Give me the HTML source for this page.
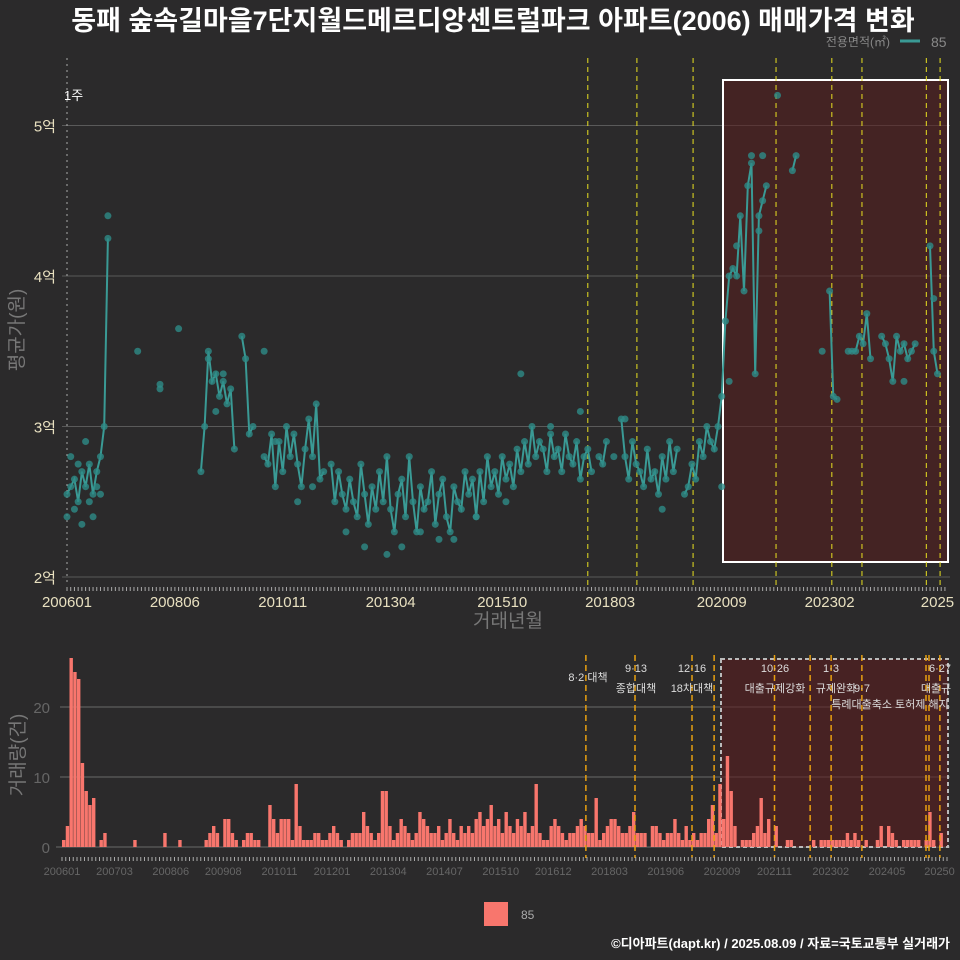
<!DOCTYPE html>
<html><head><meta charset="utf-8"><style>
body{margin:0;background:#2b2a2b;}
svg{display:block;font-family:"Liberation Sans","Noto Sans CJK KR",sans-serif;}
</style></head><body>
<svg id="c" width="960" height="960" viewBox="0 0 960 960">
<rect width="960" height="960" fill="#2b2a2b"/>
<text x="493" y="30" text-anchor="middle" font-size="27" font-weight="bold" fill="#ffffff">동패 숲속길마을7단지월드메르디앙센트럴파크 아파트(2006) 매매가격 변화</text>
<g>
<text x="890" y="46" text-anchor="end" font-size="12" fill="#888">전용면적(㎡)</text>
<line x1="900" y1="41" x2="920" y2="41" stroke="#3a9a95" stroke-width="3"/>
<text x="931" y="47" font-size="14" fill="#888">85</text>
</g>
<g id="topg"></g>
<g id="botg"></g>
<rect x="484" y="902" width="24" height="24" fill="#f8766d"/>
<text x="521" y="919" font-size="12" fill="#aaa">85</text>
<text x="950" y="948" text-anchor="end" font-size="13" font-weight="bold" fill="#fff">©디아파트(dapt.kr) / 2025.08.09 / 자료=국토교통부 실거래가</text>
</svg>
<script>
const priceAvg = [
2.55,2.6,2.65,2.5,2.7,2.6,2.75,2.55,2.7,2.8,3.0,4.25,
null,null,null,null,null,null,null,3.5,null,null,null,null,
null,3.28,null,null,null,null,3.65,null,null,null,null,null,
2.7,3.0,3.5,3.3,3.35,3.2,3.3,3.15,3.25,2.85,null,3.6,
3.45,2.95,3.0,null,null,2.8,2.75,2.95,2.6,2.9,2.7,3.0,
2.8,2.95,2.75,2.6,2.85,3.05,2.8,3.15,2.65,2.7,null,2.75,
2.5,2.7,2.55,2.45,2.65,2.5,2.4,2.75,2.55,2.35,2.6,2.45,
2.7,2.5,2.8,2.45,2.3,2.55,2.65,2.4,2.8,2.5,2.3,2.6,
2.45,2.5,2.7,2.35,2.55,2.65,2.4,2.3,2.6,2.5,2.45,2.7,
2.55,2.65,2.4,2.7,2.5,2.8,2.6,2.7,2.55,2.8,2.65,2.75,
2.6,2.85,2.7,2.9,2.75,3.0,2.8,2.9,2.85,2.7,2.95,2.8,
2.85,2.7,2.95,2.8,2.75,2.9,2.65,2.8,2.85,2.7,null,2.8,
2.75,2.9,null,2.8,null,3.05,2.8,2.65,2.9,2.75,2.7,2.6,
2.85,2.65,2.7,2.55,2.8,2.65,2.9,2.7,2.85,null,2.55,2.6,
2.75,2.65,2.9,2.8,3.0,2.9,2.85,3.0,3.2,3.7,4.0,4.05,
4.0,4.4,3.9,4.6,4.75,3.35,4.4,4.5,4.6,null,null,null,
null,null,null,4.7,4.8,null,null,null,null,null,null,null,
null,3.9,3.2,3.18,null,null,3.5,3.5,3.5,3.6,3.55,3.75,
3.45,null,null,3.6,3.55,3.45,3.3,3.6,3.5,3.55,3.45,3.5,
3.55,null,null,null,4.2,3.5,3.35];
const extraMonths = [0,1,2,3,4,5,6,7,8,9,11,25,38,40,42,53,56,62,66,75,80,86,90,95,100,104,110,118,122,130,138,150,160,176,178,180,184,186,187,191,203,225,233];
const extraVals =  [2.4,2.8,2.45,2.75,2.35,2.9,2.5,2.4,2.6,2.55,4.4,3.25,3.45,3.1,3.35,3.5,2.9,2.5,2.6,2.3,2.2,2.15,2.2,2.3,2.25,2.25,2.4,2.5,3.35,3.0,3.1,3.05,2.45,2.6,3.3,4.2,4.8,4.3,4.8,5.2,3.5,3.3,3.85];
const volume = [
1,3,27,25,24,12,8,6,7,0,1,2,
0,0,0,0,0,0,0,1,0,0,0,0,
0,0,0,2,0,0,0,1,0,0,0,0,
0,0,1,2,3,2,0,4,4,2,1,0,
1,2,2,1,1,0,0,6,4,2,4,4,
4,1,9,3,1,1,1,2,2,1,1,2,
3,2,1,0,1,2,2,2,5,3,2,1,
2,8,8,3,1,2,4,3,2,1,2,5,
4,3,2,2,3,1,2,4,2,1,3,2,
3,2,4,5,3,4,6,3,4,2,5,3,
2,4,3,5,2,3,9,2,1,1,3,4,
3,2,1,2,2,3,4,3,2,2,7,1,
2,3,4,4,3,2,2,3,5,2,2,2,
0,3,3,2,1,2,2,4,2,1,3,1,
2,1,2,2,4,6,2,9,4,13,8,3,
0,1,1,1,2,3,7,2,4,0,3,0,
0,1,1,0,0,0,0,0,1,0,1,1,
1,1,1,1,1,2,1,2,1,0,1,0,
0,1,3,0,3,2,1,0,1,1,1,1,
1,0,1,5,1,0,2];
const topTickLabels = ["200601","200806","201011","201304","201510","201803","202009","202302","2025"];
const topTickMonths = [0,29,58,87,117,146,176,205,234];
const priceTicks = [2,3,4,5];
const priceTickLabels = ["2억","3억","4억","5억"];
const botTickLabels = ["200601","200703","200806","200908","201011","201201","201304","201407","201510","201612","201803","201906","202009","202111","202302","202405","20250"];
const botTickMonths = [0,14,29,43,58,72,87,102,117,131,146,161,176,190,205,220,234];
const volTicks = [0,10,20];
const policyMonths = [140,153.2,168.3,190.6,205.6,213.7,231,234.7];
const policyMonthsBot = [139.7,152.8,168,173.9,190,199.5,205.1,213.3,230.4,231.2,234.1];
const NS="http://www.w3.org/2000/svg";
function mk(parent,tag,attrs,txt){const e=document.createElementNS(NS,tag);for(const k in attrs)e.setAttribute(k,attrs[k]);if(txt!=null)e.textContent=txt;parent.appendChild(e);return e;}
const xT=m=>67+m*3.72, yT=v=>577-(v-2)*150.5;
const xB=m=>62+m*3.75, yB=v=>847-v*7;
const topG=document.getElementById('topg'), botG=document.getElementById('botg');
for(let i=0;i<priceTicks.length;i++){
  const g=mk(topG,'line',{x1:62,x2:950,y1:yT(priceTicks[i]),y2:yT(priceTicks[i]),stroke:'#5a5a5a','stroke-width':1});
  
  
  const t=mk(topG,'text',{x:56,y:yT(priceTicks[i])+6,'text-anchor':'end','font-size':15,fill:'#e8e0c0'},priceTickLabels[i]);
  
  
}
mk(topG,'rect',{x:723,y:80,width:225,height:482,fill:'#5a1e1e','fill-opacity':0.55,stroke:'#fff','stroke-width':2,});
mk(topG,'line',{x1:67,x2:67,y1:58,y2:585,stroke:'#aaa','stroke-dasharray':'2,4',});
mk(topG,'text',{x:64,y:100,'font-size':13,fill:'#fff',},'1주');
policyMonths.forEach(m=>{const l=mk(topG,'line',{x1:xT(m),x2:xT(m),y1:58,y2:588,stroke:'#e8e020','stroke-dasharray':'5,4','stroke-width':1});
  
  });
let d='',pen=false;
priceAvg.forEach((v,m)=>{if(v==null){pen=false;return;}d+=(pen?'L':'M')+xT(m).toFixed(1)+' '+yT(v).toFixed(1);pen=true;});
const ln=mk(topG,'path',{d:d,fill:'none',stroke:'#3a9a95','stroke-width':2});


priceAvg.forEach((v,m)=>{if(v==null)return;const c=mk(topG,'circle',{cx:xT(m),cy:yT(v),r:3.5,fill:'#2e8b87','fill-opacity':0.8});
  
  });
extraMonths.forEach((m,i)=>{const c=mk(topG,'circle',{cx:xT(m),cy:yT(extraVals[i]),r:3.5,fill:'#2e8b87','fill-opacity':0.8});
  
  });
for(let m=0;m<=236;m++){mk(topG,'line',{x1:xT(m),x2:xT(m),y1:587,y2:591,stroke:'#aaa','stroke-width':1});}
topTickLabels.forEach((s,i)=>{const t=mk(topG,'text',{x:xT(topTickMonths[i]),y:607,'text-anchor':'middle','font-size':15,fill:'#e8e0c0'},s);
  
  });
mk(topG,'text',{x:508,y:627,'text-anchor':'middle','font-size':19,fill:'#777',},'거래년월');
mk(topG,'text',{x:0,y:0,transform:'translate(23,330) rotate(-90)','text-anchor':'middle','font-size':19,fill:'#777',},'평균가(원)');
volTicks.forEach(v=>{const l=mk(botG,'line',{x1:v==0?56:60,x2:950,y1:yB(v),y2:yB(v),stroke:'#6a6a6a'});
  
  
  const t=mk(botG,'text',{x:50,y:yB(v)+6,'text-anchor':'end','font-size':15,fill:'#666'},String(v));
  
  });
mk(botG,'rect',{x:721,y:659,width:227,height:188,fill:'#5a1e1e','fill-opacity':0.6,stroke:'#bbb','stroke-dasharray':'4,3','stroke-width':2,});
volume.forEach((v,m)=>{if(!v)return;const r=mk(botG,'rect',{x:xB(m),y:yB(v),width:3.4,height:v*7,fill:'#f8766d'});
  
  });
policyMonthsBot.forEach(m=>{const l=mk(botG,'line',{x1:xB(m),x2:xB(m),y1:655,y2:858,stroke:'#e8a010','stroke-dasharray':'6,4','stroke-width':1.5});
  
  });
const ann=[[588,681,'8·2 대책'],[636,672,'9·13'],[636,692,'종합대책'],[692,672,'12·16'],[692,692,'18차대책'],[775,672,'10·26'],[775,692,'대출규제강화'],[831,672,'1·3'],[836,692,'규제완화'],[862,692,'9·7'],[890,708,'특례대출축소 토허제 해지'],[940,672,'6·27'],[936,692,'대출규']];
ann.forEach(a=>{const t=mk(botG,'text',{x:a[0],y:a[1],'text-anchor':'middle','font-size':11,fill:'#ddd'},a[2]);
  
  });
for(let m=0;m<=236;m++){mk(botG,'line',{x1:xB(m),x2:xB(m),y1:857,y2:861,stroke:'#aaa'});}
botTickLabels.forEach((s,i)=>{const t=mk(botG,'text',{x:xB(botTickMonths[i]),y:875,'text-anchor':'middle','font-size':11,fill:'#666'},s);
  
  });
mk(botG,'text',{x:0,y:0,transform:'translate(24,755) rotate(-90)','text-anchor':'middle','font-size':19,fill:'#777',},'거래량(건)');
</script>
</body></html>
